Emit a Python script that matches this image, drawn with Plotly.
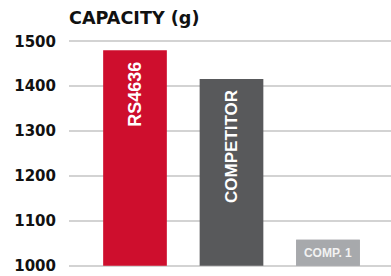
import plotly.graph_objects as go

categories = ["RS4636", "COMPETITOR", "COMP. 1"]
values = [1480, 1416, 1058]
colors = ["#CE0E2D", "#58595B", "#A7A9AC"]
tick_vals = [1000, 1100, 1200, 1300, 1400, 1500]
title_text = "CAPACITY (g)"
axis_floor = 1000

FONT = "DejaVu Sans"
LABEL_FONT = "Liberation Sans"
xs = list(range(len(categories)))
heights = [v - axis_floor for v in values]

fig = go.Figure()
fig.add_trace(go.Bar(
    x=xs, y=heights, base=axis_floor,
    marker=dict(color=colors, line=dict(width=0)),
    width=0.66,
    hoverinfo="skip",
))
# Short bar label, horizontal, centered in the bar
fig.add_trace(go.Bar(
    x=xs[2:], y=heights[2:], base=axis_floor,
    marker=dict(color=colors[2:], line=dict(width=0)),
    width=0.66,
    text=categories[2:], textposition="inside", insidetextanchor="middle",
    textangle=0,
    textfont=dict(family=LABEL_FONT, size=12, color="#F2F2F2", weight="bold"),
    hoverinfo="skip",
))

# Vertical labels inside the two tall bars, near the top
label_sizes = [18, 17]
label_gaps = [10, 9]
for i in range(2):
    fig.add_annotation(
        x=xs[i], y=values[i], xref="x", yref="y",
        text=categories[i], textangle=-90, showarrow=False,
        xanchor="center", yanchor="top", yshift=-label_gaps[i],
        font=dict(family=LABEL_FONT, size=label_sizes[i], color="white", weight="bold"),
    )

fig.update_layout(
    width=391, height=276,
    margin=dict(l=69, r=0, t=39, b=8, autoexpand=False),
    paper_bgcolor="white", plot_bgcolor="white",
    barmode="overlay",
    showlegend=False,
    title=dict(text=title_text, x=0, xref="paper", xanchor="left",
               y=1 - 17.5 / 276, yref="container", yanchor="middle",
               automargin=False,
               font=dict(family=FONT, size=17.6, color="#111111", weight="bold")),
    xaxis=dict(range=[-0.684, 2.653], showticklabels=False, showgrid=False,
               zeroline=False, showline=False, ticks="", automargin=False),
    yaxis=dict(range=[995, 1505], tickvals=tick_vals,
               ticktext=[str(v) for v in tick_vals],
               showgrid=True, gridcolor="#D3D3D3", gridwidth=2,
               zeroline=False, showline=False, automargin=False,
               ticks="outside", ticklen=9, tickcolor="rgba(0,0,0,0)",
               tickfont=dict(family=FONT, size=15, color="#111111", weight="bold")),
)

fig.write_html(
    "out.html",
    config={"displayModeBar": False},
    post_script="document.body.style.margin='0';document.body.style.overflow='hidden';",
)
